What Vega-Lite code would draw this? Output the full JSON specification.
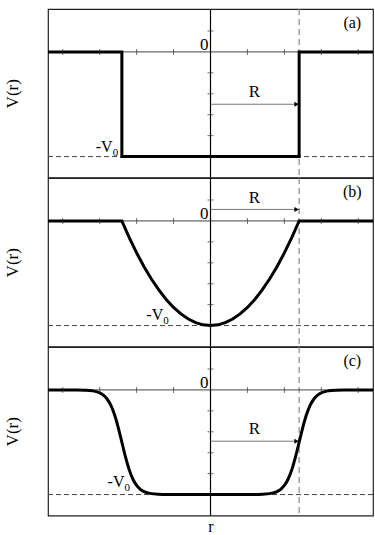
{
  "$schema": "https://vega.github.io/schema/vega-lite/v6.json",
  "padding": {"left": 2, "top": 7, "right": 4, "bottom": 0},
  "spacing": 0,
  "bounds": "flush",
  "config": {
    "view": {"stroke": "#222", "strokeWidth": 1.2},
    "axis": {"labels": false, "ticks": false, "domain": false, "grid": false, "titleFont": "Liberation Serif", "titleFontSize": 17, "titleFontWeight": "normal", "titleColor": "black"},
    "text": {"font": "Liberation Serif", "fontSize": 16, "color": "black"}
  },
  "datasets": {
    "one": [{}],
    "a": [{"r": -4.4, "V": 0}, {"r": -2.4, "V": 0}, {"r": -2.4, "V": -5}, {"r": 2.4, "V": -5}, {"r": 2.4, "V": 0}, {"r": 4.4, "V": 0}],
    "b": [{"r": -4.4, "V": 0}, {"r": -2.4, "V": 0}, {"r": -2.2, "V": -0.799}, {"r": -2.0, "V": -1.528}, {"r": -1.8, "V": -2.188}, {"r": -1.6, "V": -2.778}, {"r": -1.4, "V": -3.299}, {"r": -1.2, "V": -3.75}, {"r": -1.0, "V": -4.132}, {"r": -0.8, "V": -4.444}, {"r": -0.6, "V": -4.688}, {"r": -0.4, "V": -4.861}, {"r": -0.2, "V": -4.965}, {"r": 0, "V": -5}, {"r": 0.2, "V": -4.965}, {"r": 0.4, "V": -4.861}, {"r": 0.6, "V": -4.688}, {"r": 0.8, "V": -4.444}, {"r": 1.0, "V": -4.132}, {"r": 1.2, "V": -3.75}, {"r": 1.4, "V": -3.299}, {"r": 1.6, "V": -2.778}, {"r": 1.8, "V": -2.188}, {"r": 2.0, "V": -1.528}, {"r": 2.2, "V": -0.799}, {"r": 2.4, "V": 0}, {"r": 4.4, "V": 0}],
    "c": [{"r": -4.4, "V": 0}, {"r": -4.0, "V": -0.001}, {"r": -3.6, "V": -0.004}, {"r": -3.4, "V": -0.014}, {"r": -3.2, "V": -0.045}, {"r": -3.1, "V": -0.08}, {"r": -3.0, "V": -0.142}, {"r": -2.9, "V": -0.251}, {"r": -2.8, "V": -0.434}, {"r": -2.7, "V": -0.731}, {"r": -2.6, "V": -1.179}, {"r": -2.5, "V": -1.785}, {"r": -2.4, "V": -2.5}, {"r": -2.3, "V": -3.214}, {"r": -2.2, "V": -3.821}, {"r": -2.1, "V": -4.269}, {"r": -2.0, "V": -4.566}, {"r": -1.9, "V": -4.749}, {"r": -1.8, "V": -4.858}, {"r": -1.7, "V": -4.92}, {"r": -1.6, "V": -4.955}, {"r": -1.4, "V": -4.986}, {"r": -1.2, "V": -4.996}, {"r": -0.8, "V": -5}, {"r": 0, "V": -5}, {"r": 0.8, "V": -5}, {"r": 1.2, "V": -4.996}, {"r": 1.4, "V": -4.986}, {"r": 1.6, "V": -4.955}, {"r": 1.7, "V": -4.92}, {"r": 1.8, "V": -4.858}, {"r": 1.9, "V": -4.749}, {"r": 2.0, "V": -4.566}, {"r": 2.1, "V": -4.269}, {"r": 2.2, "V": -3.821}, {"r": 2.3, "V": -3.214}, {"r": 2.4, "V": -2.5}, {"r": 2.5, "V": -1.785}, {"r": 2.6, "V": -1.179}, {"r": 2.7, "V": -0.731}, {"r": 2.8, "V": -0.434}, {"r": 2.9, "V": -0.251}, {"r": 3.0, "V": -0.142}, {"r": 3.1, "V": -0.08}, {"r": 3.2, "V": -0.045}, {"r": 3.4, "V": -0.014}, {"r": 3.6, "V": -0.004}, {"r": 4.0, "V": -0.001}, {"r": 4.4, "V": 0}],
    "xt": [{"t": -4}, {"t": -3}, {"t": -2}, {"t": -1}, {"t": 1}, {"t": 2}, {"t": 3}, {"t": 4}],
    "yt": [{"t": 1}, {"t": -1}, {"t": -2}, {"t": -3}, {"t": -4}]
  },
  "vconcat": [
    {
      "width": 325, "height": 168.5,
      "layer": [
        {"data": {"name": "a"}, "mark": {"type": "line", "color": "black", "strokeWidth": 0, "opacity": 0},
         "encoding": {"x": {"field": "r", "type": "quantitative", "scale": {"domain": [-4.4, 4.4], "nice": false, "zero": false}, "axis": null},
                      "y": {"field": "V", "type": "quantitative", "scale": {"domain": [-6, 2.05], "nice": false, "zero": false}, "axis": {"title": "V(r)", "titlePadding": 27}},
                      "order": {"value": null}}},
        {"data": {"name": "one"}, "mark": {"type": "rule", "color": "#444", "strokeWidth": 1, "strokeDash": [5, 3]}, "encoding": {"y": {"datum": -5, "type": "quantitative", "axis": {"title": "V(r)", "titlePadding": 27}}}},
        {"data": {"name": "one"}, "mark": {"type": "rule", "color": "#888", "strokeWidth": 1.2, "strokeDash": [6, 4]}, "encoding": {"x": {"datum": 2.4, "type": "quantitative", "axis": null}}},
        {"data": {"name": "one"}, "mark": {"type": "rule", "color": "#444", "strokeWidth": 1}, "encoding": {"y": {"datum": 0, "type": "quantitative", "axis": {"title": "V(r)", "titlePadding": 27}}}},
        {"data": {"name": "one"}, "mark": {"type": "rule", "color": "black", "strokeWidth": 1.2}, "encoding": {"x": {"datum": 0, "type": "quantitative", "axis": null}}},
        {"data": {"name": "one"}, "mark": {"type": "rule", "color": "#777", "strokeWidth": 1}, "encoding": {"x": {"datum": 0, "type": "quantitative", "axis": null}, "x2": {"datum": 2.4}, "y": {"datum": -2.5, "type": "quantitative", "axis": {"title": "V(r)", "titlePadding": 27}}}},
        {"data": {"name": "one"}, "mark": {"type": "point", "shape": "triangle-right", "filled": true, "color": "black", "size": 25, "opacity": 1}, "encoding": {"x": {"datum": 2.33, "type": "quantitative", "axis": null}, "y": {"datum": -2.5, "type": "quantitative", "axis": {"title": "V(r)", "titlePadding": 27}}}},
        {"data": {"name": "a"}, "mark": {"type": "line", "color": "black", "strokeWidth": 3},
         "encoding": {"x": {"field": "r", "type": "quantitative", "axis": null}, "y": {"field": "V", "type": "quantitative", "axis": {"title": "V(r)", "titlePadding": 27}}, "order": {"value": null}}},
        {"data": {"name": "xt"}, "mark": {"type": "tick", "orient": "vertical", "size": 6, "thickness": 1, "color": "#333"}, "encoding": {"x": {"field": "t", "type": "quantitative", "axis": null}, "y": {"datum": 0, "type": "quantitative", "axis": {"title": "V(r)", "titlePadding": 27}}}},
        {"data": {"name": "yt"}, "mark": {"type": "tick", "orient": "horizontal", "size": 6, "thickness": 1, "color": "#333"}, "encoding": {"y": {"field": "t", "type": "quantitative", "axis": {"title": "V(r)", "titlePadding": 27}}, "x": {"datum": 0, "type": "quantitative", "axis": null}}},
        {"data": {"name": "one"}, "mark": {"type": "text", "text": "0", "font": "Liberation Serif", "fontSize": 17, "align": "right", "baseline": "alphabetic", "dx": -2, "dy": -2}, "encoding": {"x": {"datum": 0, "type": "quantitative", "axis": null}, "y": {"datum": 0, "type": "quantitative", "axis": {"title": "V(r)", "titlePadding": 27}}}},
        {"data": {"name": "one"}, "mark": {"type": "text", "text": "(a)", "font": "Liberation Serif", "align": "center", "baseline": "middle", "fontSize": 16}, "encoding": {"x": {"datum": 3.84, "type": "quantitative", "axis": null}, "y": {"datum": 1.4, "type": "quantitative", "axis": {"title": "V(r)", "titlePadding": 27}}}},
        {"data": {"name": "one"}, "mark": {"type": "text", "text": "R", "font": "Liberation Serif", "fontSize": 17, "align": "center", "baseline": "middle"}, "encoding": {"x": {"datum": 1.19, "type": "quantitative", "axis": null}, "y": {"datum": -1.9, "type": "quantitative", "axis": {"title": "V(r)", "titlePadding": 27}}}},
        {"data": {"name": "one"}, "mark": {"type": "text", "text": "-V", "font": "Liberation Serif", "fontSize": 16, "align": "right", "baseline": "alphabetic"}, "encoding": {"x": {"datum": -2.65, "type": "quantitative", "axis": null}, "y": {"datum": -4.78, "type": "quantitative", "axis": {"title": "V(r)", "titlePadding": 27}}}},
        {"data": {"name": "one"}, "mark": {"type": "text", "text": "0", "font": "Liberation Serif", "align": "left", "baseline": "alphabetic", "fontSize": 11, "dy": 4}, "encoding": {"x": {"datum": -2.65, "type": "quantitative", "axis": null}, "y": {"datum": -4.78, "type": "quantitative", "axis": {"title": "V(r)", "titlePadding": 27}}}}
      ]
    },
    {
      "width": 325, "height": 168.5,
      "layer": [
        {"data": {"name": "one"}, "mark": {"type": "rule", "color": "#444", "strokeWidth": 1, "strokeDash": [5, 3]}, "encoding": {"y": {"datum": -5, "type": "quantitative", "scale": {"domain": [-6, 2.05], "nice": false, "zero": false}, "axis": {"title": "V(r)", "titlePadding": 27}}}},
        {"data": {"name": "one"}, "mark": {"type": "rule", "color": "#888", "strokeWidth": 1.2, "strokeDash": [6, 4]}, "encoding": {"x": {"datum": 2.4, "type": "quantitative", "scale": {"domain": [-4.4, 4.4], "nice": false, "zero": false}, "axis": null}}},
        {"data": {"name": "one"}, "mark": {"type": "rule", "color": "#444", "strokeWidth": 1}, "encoding": {"y": {"datum": 0, "type": "quantitative", "axis": {"title": "V(r)", "titlePadding": 27}}}},
        {"data": {"name": "one"}, "mark": {"type": "rule", "color": "black", "strokeWidth": 1.2}, "encoding": {"x": {"datum": 0, "type": "quantitative", "axis": null}}},
        {"data": {"name": "one"}, "mark": {"type": "rule", "color": "#777", "strokeWidth": 1}, "encoding": {"x": {"datum": 0, "type": "quantitative", "axis": null}, "x2": {"datum": 2.4}, "y": {"datum": 0.55, "type": "quantitative", "axis": {"title": "V(r)", "titlePadding": 27}}}},
        {"data": {"name": "one"}, "mark": {"type": "point", "shape": "triangle-right", "filled": true, "color": "black", "size": 25, "opacity": 1}, "encoding": {"x": {"datum": 2.33, "type": "quantitative", "axis": null}, "y": {"datum": 0.55, "type": "quantitative", "axis": {"title": "V(r)", "titlePadding": 27}}}},
        {"data": {"name": "b"}, "mark": {"type": "line", "color": "black", "strokeWidth": 3},
         "encoding": {"x": {"field": "r", "type": "quantitative", "axis": null}, "y": {"field": "V", "type": "quantitative", "axis": {"title": "V(r)", "titlePadding": 27}}, "order": {"value": null}}},
        {"data": {"name": "xt"}, "mark": {"type": "tick", "orient": "vertical", "size": 6, "thickness": 1, "color": "#333"}, "encoding": {"x": {"field": "t", "type": "quantitative", "axis": null}, "y": {"datum": 0, "type": "quantitative", "axis": {"title": "V(r)", "titlePadding": 27}}}},
        {"data": {"name": "yt"}, "mark": {"type": "tick", "orient": "horizontal", "size": 6, "thickness": 1, "color": "#333"}, "encoding": {"y": {"field": "t", "type": "quantitative", "axis": {"title": "V(r)", "titlePadding": 27}}, "x": {"datum": 0, "type": "quantitative", "axis": null}}},
        {"data": {"name": "one"}, "mark": {"type": "text", "text": "0", "font": "Liberation Serif", "fontSize": 17, "align": "right", "baseline": "alphabetic", "dx": -2, "dy": -2}, "encoding": {"x": {"datum": 0, "type": "quantitative", "axis": null}, "y": {"datum": 0, "type": "quantitative", "axis": {"title": "V(r)", "titlePadding": 27}}}},
        {"data": {"name": "one"}, "mark": {"type": "text", "text": "(b)", "font": "Liberation Serif", "align": "center", "baseline": "middle", "fontSize": 16}, "encoding": {"x": {"datum": 3.84, "type": "quantitative", "axis": null}, "y": {"datum": 1.4, "type": "quantitative", "axis": {"title": "V(r)", "titlePadding": 27}}}},
        {"data": {"name": "one"}, "mark": {"type": "text", "text": "R", "font": "Liberation Serif", "fontSize": 17, "align": "center", "baseline": "middle"}, "encoding": {"x": {"datum": 1.19, "type": "quantitative", "axis": null}, "y": {"datum": 1.1, "type": "quantitative", "axis": {"title": "V(r)", "titlePadding": 27}}}},
        {"data": {"name": "one"}, "mark": {"type": "text", "text": "-V", "font": "Liberation Serif", "fontSize": 16, "align": "right", "baseline": "alphabetic"}, "encoding": {"x": {"datum": -1.28, "type": "quantitative", "axis": null}, "y": {"datum": -4.75, "type": "quantitative", "axis": {"title": "V(r)", "titlePadding": 27}}}},
        {"data": {"name": "one"}, "mark": {"type": "text", "text": "0", "font": "Liberation Serif", "align": "left", "baseline": "alphabetic", "fontSize": 11, "dy": 4}, "encoding": {"x": {"datum": -1.28, "type": "quantitative", "axis": null}, "y": {"datum": -4.75, "type": "quantitative", "axis": {"title": "V(r)", "titlePadding": 27}}}}
      ]
    },
    {
      "width": 325, "height": 168.5,
      "layer": [
        {"data": {"name": "one"}, "mark": {"type": "rule", "color": "#444", "strokeWidth": 1, "strokeDash": [5, 3]}, "encoding": {"y": {"datum": -5, "type": "quantitative", "scale": {"domain": [-6, 2.05], "nice": false, "zero": false}, "axis": {"title": "V(r)", "titlePadding": 27}}}},
        {"data": {"name": "one"}, "mark": {"type": "rule", "color": "#888", "strokeWidth": 1.2, "strokeDash": [6, 4]}, "encoding": {"x": {"datum": 2.4, "type": "quantitative", "scale": {"domain": [-4.4, 4.4], "nice": false, "zero": false}, "axis": {"title": "r", "titleFontSize": 16, "titleBaseline": "alphabetic", "titleY": 15.5}}}},
        {"data": {"name": "one"}, "mark": {"type": "rule", "color": "#444", "strokeWidth": 1}, "encoding": {"y": {"datum": 0, "type": "quantitative", "axis": {"title": "V(r)", "titlePadding": 27}}}},
        {"data": {"name": "one"}, "mark": {"type": "rule", "color": "black", "strokeWidth": 1.2}, "encoding": {"x": {"datum": 0, "type": "quantitative", "axis": {"title": "r", "titleFontSize": 16, "titleBaseline": "alphabetic", "titleY": 15.5}}}},
        {"data": {"name": "one"}, "mark": {"type": "rule", "color": "#777", "strokeWidth": 1}, "encoding": {"x": {"datum": 0, "type": "quantitative", "axis": {"title": "r", "titleFontSize": 16, "titleBaseline": "alphabetic", "titleY": 15.5}}, "x2": {"datum": 2.4}, "y": {"datum": -2.45, "type": "quantitative", "axis": {"title": "V(r)", "titlePadding": 27}}}},
        {"data": {"name": "one"}, "mark": {"type": "point", "shape": "triangle-right", "filled": true, "color": "black", "size": 25, "opacity": 1}, "encoding": {"x": {"datum": 2.33, "type": "quantitative", "axis": {"title": "r", "titleFontSize": 16, "titleBaseline": "alphabetic", "titleY": 15.5}}, "y": {"datum": -2.45, "type": "quantitative", "axis": {"title": "V(r)", "titlePadding": 27}}}},
        {"data": {"name": "c"}, "mark": {"type": "line", "color": "black", "strokeWidth": 3, "interpolate": "monotone"},
         "encoding": {"x": {"field": "r", "type": "quantitative", "axis": {"title": "r", "titleFontSize": 16, "titleBaseline": "alphabetic", "titleY": 15.5}}, "y": {"field": "V", "type": "quantitative", "axis": {"title": "V(r)", "titlePadding": 27}}, "order": {"value": null}}},
        {"data": {"name": "xt"}, "mark": {"type": "tick", "orient": "vertical", "size": 6, "thickness": 1, "color": "#333"}, "encoding": {"x": {"field": "t", "type": "quantitative", "axis": {"title": "r", "titleFontSize": 16, "titleBaseline": "alphabetic", "titleY": 15.5}}, "y": {"datum": 0, "type": "quantitative", "axis": {"title": "V(r)", "titlePadding": 27}}}},
        {"data": {"name": "yt"}, "mark": {"type": "tick", "orient": "horizontal", "size": 6, "thickness": 1, "color": "#333"}, "encoding": {"y": {"field": "t", "type": "quantitative", "axis": {"title": "V(r)", "titlePadding": 27}}, "x": {"datum": 0, "type": "quantitative", "axis": {"title": "r", "titleFontSize": 16, "titleBaseline": "alphabetic", "titleY": 15.5}}}},
        {"data": {"name": "one"}, "mark": {"type": "text", "text": "0", "font": "Liberation Serif", "fontSize": 17, "align": "right", "baseline": "alphabetic", "dx": -2, "dy": -2}, "encoding": {"x": {"datum": 0, "type": "quantitative", "axis": {"title": "r", "titleFontSize": 16, "titleBaseline": "alphabetic", "titleY": 15.5}}, "y": {"datum": 0, "type": "quantitative", "axis": {"title": "V(r)", "titlePadding": 27}}}},
        {"data": {"name": "one"}, "mark": {"type": "text", "text": "(c)", "font": "Liberation Serif", "align": "center", "baseline": "middle", "fontSize": 16}, "encoding": {"x": {"datum": 3.84, "type": "quantitative", "axis": {"title": "r", "titleFontSize": 16, "titleBaseline": "alphabetic", "titleY": 15.5}}, "y": {"datum": 1.4, "type": "quantitative", "axis": {"title": "V(r)", "titlePadding": 27}}}},
        {"data": {"name": "one"}, "mark": {"type": "text", "text": "R", "font": "Liberation Serif", "fontSize": 17, "align": "center", "baseline": "middle"}, "encoding": {"x": {"datum": 1.19, "type": "quantitative", "axis": {"title": "r", "titleFontSize": 16, "titleBaseline": "alphabetic", "titleY": 15.5}}, "y": {"datum": -1.86, "type": "quantitative", "axis": {"title": "V(r)", "titlePadding": 27}}}},
        {"data": {"name": "one"}, "mark": {"type": "text", "text": "-V", "font": "Liberation Serif", "fontSize": 16, "align": "right", "baseline": "alphabetic"}, "encoding": {"x": {"datum": -2.33, "type": "quantitative", "axis": {"title": "r", "titleFontSize": 16, "titleBaseline": "alphabetic", "titleY": 15.5}}, "y": {"datum": -4.65, "type": "quantitative", "axis": {"title": "V(r)", "titlePadding": 27}}}},
        {"data": {"name": "one"}, "mark": {"type": "text", "text": "0", "font": "Liberation Serif", "align": "left", "baseline": "alphabetic", "fontSize": 11, "dy": 4}, "encoding": {"x": {"datum": -2.33, "type": "quantitative", "axis": {"title": "r", "titleFontSize": 16, "titleBaseline": "alphabetic", "titleY": 15.5}}, "y": {"datum": -4.65, "type": "quantitative", "axis": {"title": "V(r)", "titlePadding": 27}}}}
      ]
    }
  ]
}
